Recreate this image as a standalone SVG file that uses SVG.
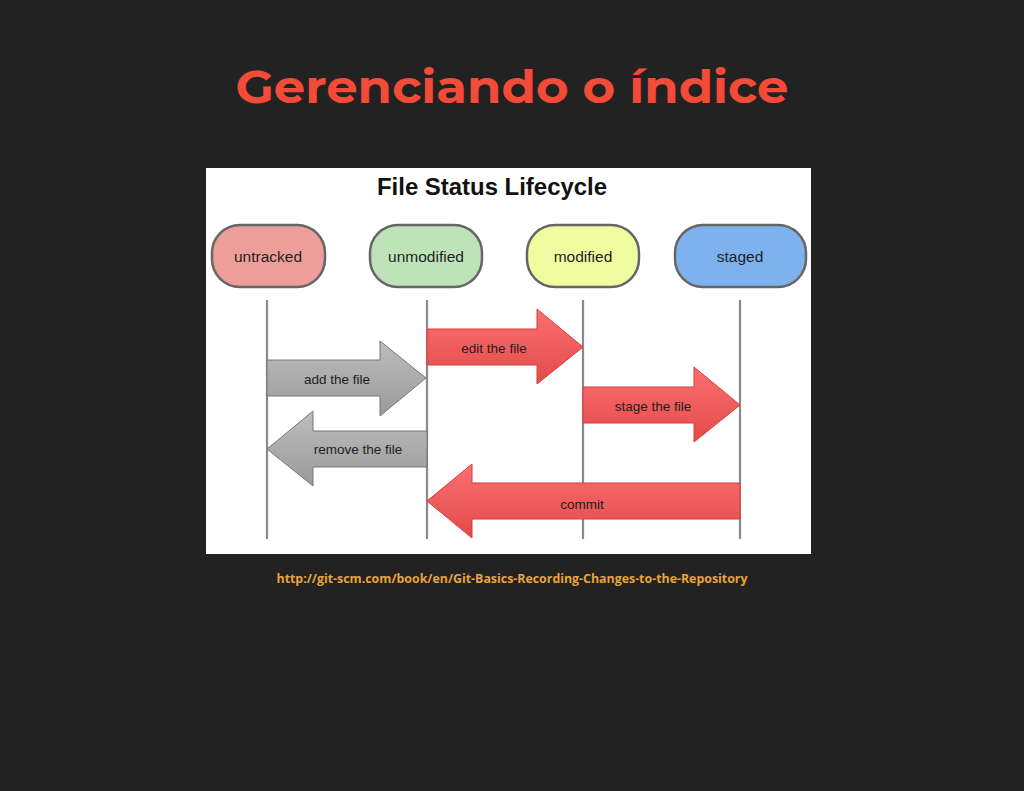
<svg xmlns="http://www.w3.org/2000/svg" width="1024" height="791" viewBox="0 0 1024 791">
<style>
.node{stroke:#666;stroke-width:2.5}
.nt{font-family:"Liberation Sans",Arial,sans-serif;font-size:15.5px;fill:#1e1e1e;text-anchor:middle}
.at{font-family:"Liberation Sans",Arial,sans-serif;font-size:13.5px;fill:#1e1e1e;text-anchor:middle}
.life{stroke:#8a8a8a;stroke-width:2.2;fill:none}
.red{fill:url(#gr);stroke:#d43c3c;stroke-width:1}
.gray{fill:url(#gg);stroke:#777;stroke-width:1}
</style>
<defs>
<linearGradient id="gr" x1="0" y1="0" x2="0" y2="1">
<stop offset="0" stop-color="#fa7070"/>
<stop offset="1" stop-color="#e44a4a"/>
</linearGradient>
<linearGradient id="gg" x1="0" y1="0" x2="0" y2="1">
<stop offset="0" stop-color="#bdbdbd"/>
<stop offset="1" stop-color="#9a9a9a"/>
</linearGradient>
</defs>
<rect width="1024" height="791" fill="#222"/>
<text x="512" y="103" font-family="Montserrat,'Open Sans',sans-serif" font-weight="700" font-size="46" fill="#f44b39" text-anchor="middle" textLength="553" lengthAdjust="spacingAndGlyphs">Gerenciando o índice</text>
<rect x="206" y="168" width="605" height="386" fill="#fff"/>
<text x="492" y="194.5" font-family="'Liberation Sans',Arial,sans-serif" font-weight="700" font-size="23" fill="#111" text-anchor="middle" textLength="230" lengthAdjust="spacingAndGlyphs">File Status Lifecycle</text>
<g id="lifelines">
<line class="life" x1="267" y1="300" x2="267" y2="539"/>
<line class="life" x1="427" y1="300" x2="427" y2="539"/>
<line class="life" x1="583" y1="300" x2="583" y2="539"/>
<line class="life" x1="740" y1="300" x2="740" y2="539"/>
</g>
<g id="node-untracked">
<rect class="node" x="212" y="225" width="113" height="62" rx="28" fill="#ee9e9a"/>
<text class="nt" x="268" y="261.5">untracked</text>
</g>
<g id="node-unmodified">
<rect class="node" x="370" y="225" width="112" height="62" rx="28" fill="#bfe3b9"/>
<text class="nt" x="426" y="261.5">unmodified</text>
</g>
<g id="node-modified">
<rect class="node" x="527" y="225" width="112" height="62" rx="28" fill="#effca0"/>
<text class="nt" x="583" y="261.5">modified</text>
</g>
<g id="node-staged">
<rect class="node" x="675" y="225" width="131" height="62" rx="28" fill="#7eb2ee"/>
<text class="nt" x="740" y="261.5">staged</text>
</g>
<g id="connectors">
<g id="edit">
<path class="red" d="M427,329 H537 V309 L583,347 L537,384 V365 H427 Z"/>
<text class="at" x="494" y="352.5">edit the file</text>
</g>
<g id="add">
<path class="gray" d="M267,360 H380 V341 L426,378 L380,416 V396 H267 Z"/>
<text class="at" x="337" y="383.5">add the file</text>
</g>
<g id="stage">
<path class="red" d="M583,387 H694 V367 L740,405 L694,442 V423 H583 Z"/>
<text class="at" x="653" y="410.5">stage the file</text>
</g>
<g id="remove">
<path class="gray" d="M427,431 H313 V411 L267,449 L313,486 V467 H427 Z"/>
<text class="at" x="358" y="454">remove the file</text>
</g>
<g id="commit">
<path class="red" d="M740,483 H472 V464 L427,501 L472,538 V519 H740 Z"/>
<text class="at" x="582" y="509">commit</text>
</g>
</g>
<text x="512" y="583" font-family="'Open Sans',sans-serif" font-weight="700" font-size="12" fill="#e8a33d" text-anchor="middle" textLength="471" lengthAdjust="spacingAndGlyphs">http://git-scm.com/book/en/Git-Basics-Recording-Changes-to-the-Repository</text>
</svg>
